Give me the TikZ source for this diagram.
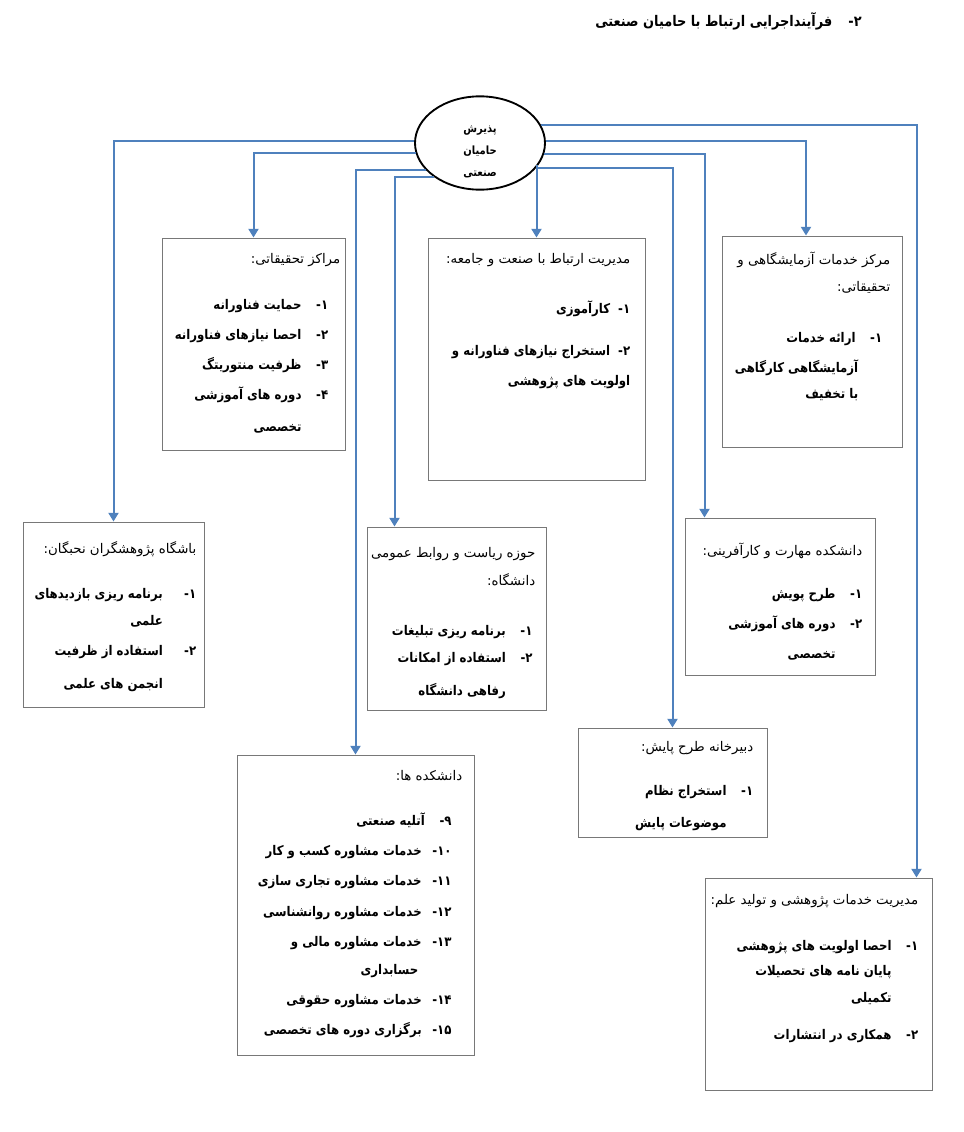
\documentclass[tikz,border=0pt]{standalone}
\usepackage{fontspec}
\usetikzlibrary{arrows.meta,positioning,shapes.geometric,fit}
\newfontfamily\fa[Script=Arabic,BoldFeatures={FakeStretch=0.88}]{DejaVu Sans}
\TeXXeTstate=1
\definecolor{lnblue}{RGB}{79,129,189}
\definecolor{bxgray}{RGB}{120,120,120}
\newcommand{\rl}[1]{\beginR#1\endR}
\newcommand{\bl}[2][0pt]{\beginR\hspace*{#1}\textbf{#2}\endR}
\newcommand{\nm}[2][1.1em]{#2\kern0pt-\hspace{#1}}

\begin{document}
\begin{tikzpicture}[x=0.75pt,y=-0.75pt,>={Triangle[length=6.5pt,width=7.5pt]},
    box/.style={draw=bxgray,line width=0.75pt,inner sep=0pt},
    txt/.style={anchor=north east,align=right,inner sep=0pt,font=\fa\fontsize{10}{22.5}\selectfont},
    conn/.style={draw=lnblue,line width=1.5pt,->}]
    \useasboundingbox (0,0) rectangle (964,1132);

    \node[anchor=east,inner sep=0pt,font=\fa\bfseries\fontsize{11}{14}\selectfont] (ttl) at (862,21) {\rl{\nm{۲}فرآینداجرایی ارتباط با حامیان صنعتی}};

    \node[ellipse,draw,line width=1.4pt,minimum width=97.5pt,minimum height=70pt,
        label={[yshift=-6.5pt,align=center,font=\fa\bfseries\fontsize{8.5}{16.5}\selectfont]center:\rl{پذیرش}\\\rl{حامیان}\\\rl{صنعتی}}] (PH) at (480,143) {};

    \node[box,fit={(162,238) (345,450)}] (MT) {};
    \node[txt] (MT-t) at ([shift={(-5,16)}]MT.north east) {\rl{مراکز تحقیقاتی:}\\[12pt]
        \bl[9pt]{\nm{۱}حمایت فناورانه}\\
        \bl[9pt]{\nm{۲}احصا نیازهای فناورانه}\\
        \bl[9pt]{\nm{۳}ظرفیت منتوریتگ}\\
        \bl[9pt]{\nm{۴}دوره های آموزشی}\\[1pt]
        \bl[29pt]{تخصصی}};

    \node[box,fit={(428,238) (645,480)}] (MR) {};
    \node[txt] (MR-t) at ([shift={(-15,16)}]MR.north east) {\rl{مدیریت ارتباط با صنعت و جامعه:}\\[15pt]
        \bl{\nm[0.6em]{۱}کارآموزی}\\[9pt]
        \bl{\nm[0.6em]{۲}استخراج نیازهای فناورانه و}\\
        \bl{اولویت های پژوهشی}};

    \node[box,fit={(722,236) (902,447)}] (MA) {};
    \node[txt] (MA-t) at ([shift={(-12,16)}]MA.north east) {\rl{مرکز خدمات آزمایشگاهی و}\\[-2pt]
        \rl{تحقیقاتی:}\\[16pt]
        \bl[6pt]{\nm{۱}ارائه خدمات}\\
        \bl[24pt]{آزمایشگاهی کارگاهی}\\[-3pt]
        \bl[24pt]{با تخفیف}};

    \node[box,fit={(23,522) (204,707)}] (BP) {};
    \node[txt] (BP-t) at ([shift={(-8,20)}]BP.north east) {\rl{باشگاه پژوهشگران نحبگان:}\\[11pt]
        \bl{\nm[1.6em]{۱}برنامه ریزی بازدیدهای}\\[-2pt]
        \bl[25pt]{علمی}\\
        \bl{\nm[1.6em]{۲}استفاده از ظرفیت}\\[2pt]
        \bl[25pt]{انجمن های علمی}};

    \node[box,fit={(367,527) (546,710)}] (HR) {};
    \node[txt] (HR-t) at ([shift={(-11,21)}]HR.north east) {\rl{حوزه ریاست و روابط عمومی}\\[-2pt]
        \rl{دانشگاه:}\\[15pt]
        \bl[2pt]{\nm{۱}برنامه ریزی تبلیغات}\\[-2pt]
        \bl[2pt]{\nm{۲}استفاده از امکانات}\\[2pt]
        \bl[22pt]{رفاهی دانشگاه}};

    \node[box,fit={(685,518) (875,675)}] (DM) {};
    \node[txt] (DM-t) at ([shift={(-13,25)}]DM.north east) {\rl{دانشکده مهارت و کارآفرینی:}\\[10pt]
        \bl{\nm{۱}طرح پویش}\\
        \bl{\nm{۲}دوره های آموزشی}\\
        \bl[20pt]{تخصصی}};

    \node[box,fit={(578,728) (767,837)}] (DT) {};
    \node[txt] (DT-t) at ([shift={(-14,14)}]DT.north east) {\rl{دبیرخانه طرح پایش:}\\[10pt]
        \bl{\nm{۱}استخراج نظام}\\[2pt]
        \bl[20pt]{موضوعات پایش}};

    \node[box,fit={(237,755) (474,1055)}] (DH) {};
    \node[txt] (DH-t) at ([shift={(-12,16)}]DH.north east) {\rl{دانشکده ها:}\\[11pt]
        \bl[8pt]{\nm{۹}آتلیه صنعتی}\\
        \bl[8pt]{\nm[0.8em]{۱۰}خدمات مشاوره کسب و کار}\\
        \bl[8pt]{\nm[0.8em]{۱۱}خدمات مشاوره تجاری سازی}\\[1pt]
        \bl[8pt]{\nm[0.8em]{۱۲}خدمات مشاوره روانشناسی}\\
        \bl[8pt]{\nm[0.8em]{۱۳}خدمات مشاوره مالی و}\\[-2pt]
        \bl[33pt]{حسابداری}\\
        \bl[8pt]{\nm[0.8em]{۱۴}خدمات مشاوره حقوقی}\\
        \bl[8pt]{\nm[0.8em]{۱۵}برگزاری دوره های تخصصی}};

    \node[box,fit={(705,878) (932,1090)}] (MP) {};
    \node[txt] (MP-t) at ([shift={(-14,17)}]MP.north east) {\rl{مدیریت خدمات پژوهشی و تولید علم:}\\[12pt]
        \bl{\nm{۱}احصا اولویت های پژوهشی}\\[-4pt]
        \bl[20pt]{پایان نامه های تحصیلات}\\[-2pt]
        \bl[20pt]{تکمیلی}\\[5pt]
        \bl{\nm{۲}همکاری در انتشارات}};

    \draw[conn] (PH.16) -| ([shift={(-16,0)}]MP.north east);
    \draw[conn] (PH.2) -| ([shift={(-6,0)}]MA.north);
    \draw[conn] (PH.350) -| ([shift={(20,0)}]DM.north west);
    \draw[conn] (PH.336) -| (DT.north);
    \draw[conn] (MR.north |- PH.339) -- (MR.north);
    \draw[conn] (PH.178) -| (BP.north);
    \draw[conn] (PH.189) -| (MT.north);
    \draw[conn] (PH.207) -| (DH.north);
    \draw[conn] (PH.217) -| ([shift={(28,0)}]HR.north west);
\end{tikzpicture}
\end{document}
